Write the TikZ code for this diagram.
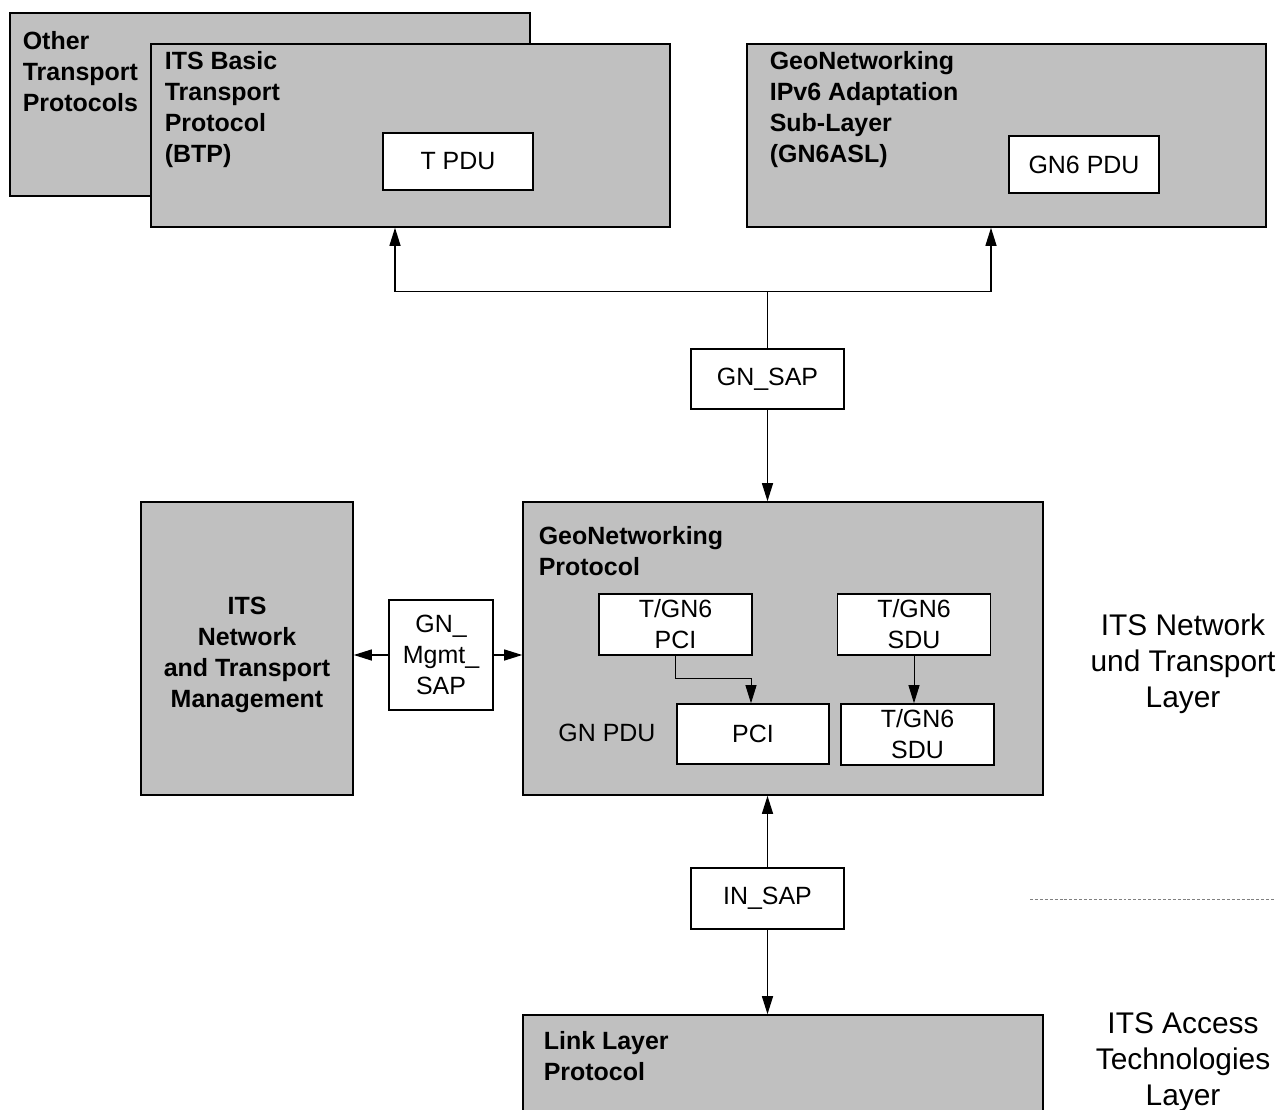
\documentclass[tikz,border=0pt]{standalone}
\usepackage{fontspec}
\setmainfont{Liberation Sans}
\usepackage{tikz}
\usetikzlibrary{positioning,calc,fit,arrows.meta}
\definecolor{boxgray}{HTML}{C0C0C0}
\newcommand{\gnfont}{\fontsize{14.2pt}{17.6pt}\selectfont}
\newcommand{\gnbold}{\fontsize{14.2pt}{17.6pt}\selectfont\bfseries}
\newcommand{\layerfont}{\fontsize{17pt}{20.5pt}\selectfont}

\begin{document}
\begin{tikzpicture}[x=0.2mm, y=-0.2mm, line width=0.7pt,
    >={Triangle[length=3.6mm,width=2.2mm]},
    layerbox/.style={draw, fill=boxgray, line width=0.9pt, inner sep=0pt, align=center},
    pdubox/.style={draw, fill=white, line width=0.9pt, inner sep=0pt, align=center, font=\gnfont,
        minimum width=30.6mm, minimum height=12.2mm},
    title/.style={anchor=north west, inner sep=0pt, align=left, font=\gnbold},
    layertxt/.style={inner sep=0pt, align=center, font=\layerfont}]
    \useasboundingbox (0,0) rectangle (1280,1110);

    % transport protocols on top
    \node[layerbox, fit={(10,13) (530,196)}] (other) {};
    \node[title] (othertxt) at ([shift={(13,19)}]other.north west) {Other\\Transport\\Protocols};
    \node[layerbox, fit={(151,44) (670,227)}] (btp) {};
    \node[title] (btptxt) at ([shift={(14,8)}]btp.north west) {ITS Basic\\Transport\\Protocol\\(BTP)};
    \node[pdubox, minimum width=30mm, minimum height=11.4mm] (tpdu) at (458,161.5) {T PDU};

    \node[layerbox, fit={(747,44) (1266,227)}] (gn6asl) {};
    \node[title] (gn6asltxt) at ([shift={(23,8)}]gn6asl.north west) {GeoNetworking\\IPv6 Adaptation\\Sub-Layer\\(GN6ASL)};
    \node[pdubox, minimum width=30mm, minimum height=11.4mm] (gn6pdu) at (1084,164.5) {GN6 PDU};

    \node[pdubox, minimum height=12mm] (gnsap) at (767.5,379) {GN\_SAP};

    % geonetworking
    \node[layerbox, fit={(523,502) (1043,795)}] (gnp) {};
    \node[title] (gnptxt) at ([shift={(16,25)}]gnp.north west) {GeoNetworking\\Protocol};
    \node[pdubox] (tpci) at (675.5,624.5) {T/GN6\\PCI};
    \node[pdubox] (tsdu) at (914,624.5) {T/GN6\\SDU};
    \node[pdubox, minimum width=30.4mm, minimum height=12mm] (pci) at (753,734) {PCI};
    \node[pdubox] (sdu) at (917.5,734.5) {T/GN6\\SDU};
    \node[inner sep=0pt, font=\gnfont] (gnpdu) at (607,733) {GN PDU};

    % management
    \node[layerbox, minimum width=42.4mm, minimum height=58.6mm] (mgmt) at (247,648.5) {};
    \node[inner sep=0pt, align=center, font=\gnbold] (mgmttxt) at (247,655)
        {ITS\\Network\\and Transport\\Management};
    \node[pdubox, minimum width=20.8mm, minimum height=22mm] (mgmtsap) at (441,655) {GN\_\\Mgmt\_\\SAP};

    % access layer
    \node[pdubox] (insap) at (767.5,898.5) {IN\_SAP};
    \node[layerbox, fit={(523,1015) (1043,1125)}] (link) {};
    \node[title] (linktxt) at ([shift={(21,17)}]link.north west) {Link Layer\\Protocol};

    % layer names
    \node[layertxt] (nwlayer) at (1183,664) {ITS Network\\und Transport\\Layer};
    \node[layertxt] (aclayer) at (1183,1062) {ITS Access\\Technologies\\Layer};
    \coordinate (sepl) at (1030,899);
    \coordinate (sepr) at (1275,899);
    \draw[gray, line width=0.5pt, dash pattern=on 1.7pt off 1.1pt] (sepl) -- (sepr);

    % connectors
    \coordinate (split) at ([shift={(0,-57)}]gnsap.north);
    \draw (gnsap.north) -- (split);
    \draw[->] (split) -| ([shift={(-15.5,0)}]btp.south);
    \draw[->] (split) -| ([shift={(-15.5,0)}]gn6asl.south);
    \draw[->] (gnsap.south) -- (gnsap.south |- gnp.north);
    \draw[->] (insap.north) -- (insap.north |- gnp.south);
    \draw[->] (insap.south) -- (insap.south |- link.north);
    \draw[->] (mgmtsap.west) -- (mgmtsap.west -| mgmt.east);
    \draw[->] (mgmtsap.east) -- (mgmtsap.east -| gnp.west);
    \draw[->, line width=0.5pt] (tpci.south) -- ++(0,23) -| ([shift={(-2,0)}]pci.north);
    \draw[->, line width=0.5pt] (tsdu.south) -- (tsdu.south |- sdu.north);
\end{tikzpicture}
\end{document}
